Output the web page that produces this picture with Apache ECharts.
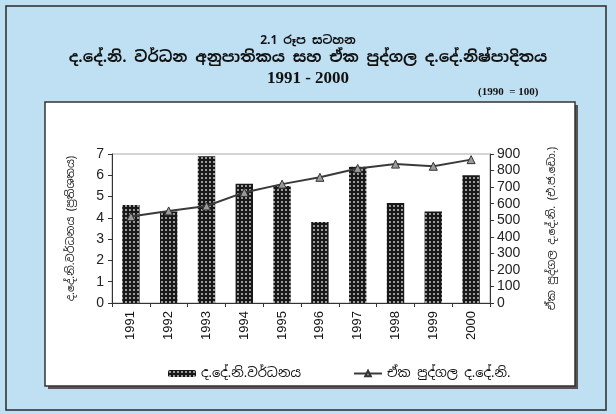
<!DOCTYPE html>
<html>
<head>
<meta charset="utf-8">
<script src="https://cdn.jsdelivr.net/npm/echarts@6/dist/echarts.min.js"></script>
<style>
  html, body { margin: 0; padding: 0; background: #bfe0f3; }
  #chart { width: 616px; height: 414px; }
</style>
</head>
<body>
<div id="chart"></div>
<script>
// data
const years = ['1991', '1992', '1993', '1994', '1995', '1996', '1997', '1998', '1999', '2000'];
const growthRate = [4.6, 4.3, 6.9, 5.6, 5.5, 3.8, 6.4, 4.7, 4.3, 6.0];
const perCapitaGdp = [522, 556, 586, 668, 718, 759, 813, 839, 826, 866];
const leftTicks = [0, 7, 1];     // min, max, interval
const rightTicks = [0, 900, 100];

const growthName = 'ද.දේ.නි.වර්ධනය';
const perCapitaName = 'ඒක පුද්ගල ද.දේ.නි.';

const sinhala = "'Noto Sans Sinhala', 'Noto Sans', 'DejaVu Sans', sans-serif";

// black fill with white dots, like the printed bars
function dotPattern() {
  let c = document.createElement('canvas')
  c.width = 4
  c.height = 4
  let ctx = c.getContext('2d')
  ctx.fillStyle = '#181818'
  ctx.fillRect(0, 0, 4, 4)
  ctx.fillStyle = '#d8d8d8'
  ctx.beginPath()
  ctx.arc(2, 2, 0.9, 0, Math.PI * 2)
  ctx.fill()
  return c
}

let chart = echarts.init(document.getElementById('chart'))
let option = {
  backgroundColor: '#bfe0f3',
  animation: false,
  graphic: [
    { type: 'rect', shape: { x: 6, y: 6, width: 600, height: 404 }, style: { fill: 'none', stroke: '#2a2a2a', lineWidth: 1.5 }, z: -10 },
    { type: 'rect', shape: { x: 48, y: 105, width: 530, height: 284 }, style: { fill: '#555' }, z: -10 },
    { type: 'rect', shape: { x: 45, y: 102, width: 530, height: 284 }, style: { fill: '#ffffff', stroke: '#333', lineWidth: 1.5 }, z: -9 },
    { type: 'text', left: 'center', top: 35, style: { text: '2.1 රූප සටහන', font: "bold 12px " + sinhala, fill: '#111' } },
    { type: 'text', left: 'center', top: 50, style: { text: 'ද.දේ.නි. වර්ධන අනුපාතිකය සහ ඒක පුද්ගල ද.දේ.නිෂ්පාදිතය', font: "bold 15.5px " + sinhala, fill: '#111' } },
    { type: 'text', left: 'center', top: 70, style: { text: '1991 - 2000', font: "bold 17px 'Liberation Serif', serif", fill: '#111' } },
    { type: 'text', left: 478, top: 87, style: { text: '(1990  = 100)', font: "bold 11px 'Liberation Serif', serif", fill: '#111' } }
  ],
  grid: {
    left: 112,
    right: 126,
    top: 154,
    bottom: 111,
    show: true,
    borderColor: '#aaa',
    borderWidth: 1
  },
  legend: {
    bottom: 29,
    left: 163,
    itemGap: 52,
    itemWidth: 28,
    itemHeight: 7,
    textStyle: { fontFamily: sinhala, fontSize: 13, color: '#111' },
    data: [growthName, perCapitaName]
  },
  xAxis: {
    type: 'category',
    data: years,
    axisLine: { lineStyle: { color: '#333' } },
    axisTick: { show: true, length: 4, lineStyle: { color: '#333' } },
    axisLabel: {
      rotate: 90,
      color: '#111',
      fontFamily: 'Liberation Sans, Arial, sans-serif',
      fontSize: 13,
      margin: 8
    }
  },
  yAxis: [
    {
      type: 'value',
      min: leftTicks[0],
      max: leftTicks[1],
      interval: leftTicks[2],
      name: 'ද.දේ.නි.වර්ධනය (ප්‍රතිශතය)',
      nameLocation: 'middle',
      nameRotate: 90,
      nameGap: 36,
      nameTextStyle: { fontFamily: sinhala, fontSize: 11, color: '#222' },
      axisLine: { show: true, lineStyle: { color: '#333' } },
      axisTick: { show: true, length: 4, lineStyle: { color: '#333' } },
      splitLine: { show: false },
      axisLabel: { color: '#222', fontFamily: 'Liberation Sans, Arial, sans-serif', fontSize: 14, margin: 8 }
    },
    {
      type: 'value',
      min: rightTicks[0],
      max: rightTicks[1],
      interval: rightTicks[2],
      position: 'right',
      name: 'ඒක පුද්ගල ද.දේ.නි. (එ.ජ.ඩො.)',
      nameLocation: 'middle',
      nameRotate: 90,
      nameGap: 56,
      nameTextStyle: { fontFamily: sinhala, fontSize: 11, color: '#222' },
      axisLine: { show: true, lineStyle: { color: '#333' } },
      axisTick: { show: true, length: 4, lineStyle: { color: '#333' } },
      splitLine: { show: false },
      axisLabel: { color: '#222', fontFamily: 'Liberation Sans, Arial, sans-serif', fontSize: 14, margin: 7 }
    }
  ],
  series: [
    {
      name: growthName,
      type: 'bar',
      yAxisIndex: 0,
      data: growthRate,
      barWidth: '46%',
      itemStyle: { color: { image: dotPattern(), repeat: 'repeat' } }
    },
    {
      name: perCapitaName,
      type: 'line',
      yAxisIndex: 1,
      data: perCapitaGdp,
      symbol: 'triangle',
      symbolSize: 8,
      lineStyle: { color: '#3a3a3a', width: 2 },
      itemStyle: { color: '#9a9a9a', borderColor: '#333', borderWidth: 1 }
    }
  ]
}
chart.setOption(option)
</script>
</body>
</html>
